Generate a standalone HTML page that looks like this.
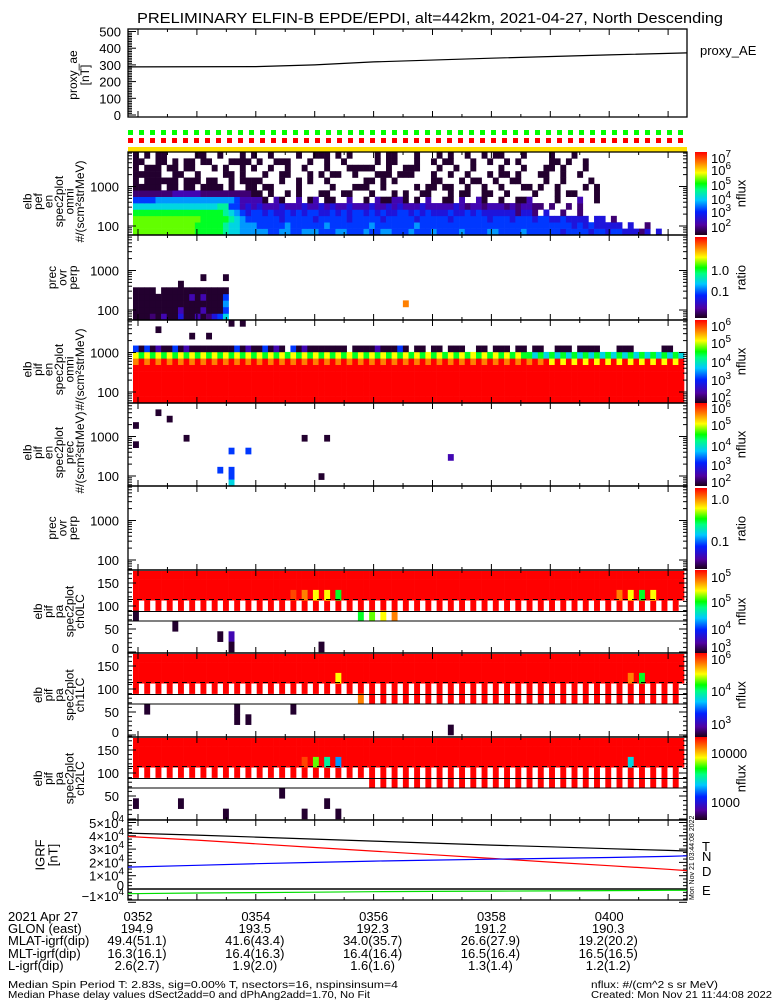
<!DOCTYPE html>
<html><head><meta charset="utf-8"><style>
html,body{margin:0;padding:0;background:#fff}
svg{display:block}
text{font-family:"Liberation Sans",sans-serif;fill:#000}
</style></head>
<body>
<svg id="chart" xmlns="http://www.w3.org/2000/svg" width="775" height="1000" viewBox="0 0 775 1000">
<defs>
<linearGradient id="rainbow" x1="0" y1="1" x2="0" y2="0">
<stop offset="0" stop-color="#1a0018"/><stop offset="0.12" stop-color="#5000a0"/><stop offset="0.28" stop-color="#0020ff"/><stop offset="0.42" stop-color="#00c8ff"/><stop offset="0.55" stop-color="#00ff80"/><stop offset="0.62" stop-color="#00ff00"/><stop offset="0.75" stop-color="#ffff00"/><stop offset="0.87" stop-color="#ff8000"/><stop offset="1" stop-color="#ff0000"/>
</linearGradient>
</defs>
<text x="137" y="23" font-size="15" textLength="586" lengthAdjust="spacingAndGlyphs">PRELIMINARY ELFIN-B EPDE/EPDI, alt=442km, 2021-04-27, North Descending</text>
<g id="layer"></g>
</svg>
<script>
// ---------- data ----------
const aeTimes = [-0.17, 2, 3, 4, 6, 8, 9.32];
const aeValues = [288, 290, 300, 318, 340, 360, 372];
const aeTicks = [0, 100, 200, 300, 400, 500];

const igrfTimes = [-0.17, 1, 2, 3, 4, 5, 6, 7, 8, 9, 9.32];
const igrfT = [4.2, 4.05, 3.9, 3.75, 3.6, 3.45, 3.3, 3.17, 3.03, 2.9, 2.86];
const igrfD = [3.95, 3.68, 3.4, 3.12, 2.85, 2.58, 2.3, 2.02, 1.75, 1.48, 1.38];
const igrfN = [1.65, 1.78, 1.9, 2.0, 2.1, 2.17, 2.24, 2.3, 2.37, 2.45, 2.5];
const igrfE = [-0.35, -0.3, -0.27, -0.24, -0.2, -0.18, -0.16, -0.14, -0.12, -0.1, -0.1];
const igrfTickVals = [5, 4, 3, 2, 1, 0, -1];

const timeLabels = ["0352", "0354", "0356", "0358", "0400"];
const timeLabelMinutes = [0, 2, 4, 6, 8];
const glonRow = ["194.9", "193.5", "192.3", "191.2", "190.3"];
const mlatRow = ["49.4(51.1)", "41.6(43.4)", "34.0(35.7)", "26.6(27.9)", "19.2(20.2)"];
const mltRow = ["16.3(16.1)", "16.4(16.3)", "16.4(16.4)", "16.5(16.4)", "16.5(16.5)"];
const lRow = ["2.6(2.7)", "1.9(2.0)", "1.6(1.6)", "1.3(1.4)", "1.2(1.2)"];

const levelChars = "kmpdbicaglyoqr";
const levelValues = [0.02, 0.08, 0.15, 0.22, 0.3, 0.38, 0.45, 0.52, 0.6, 0.67, 0.75, 0.87, 0.93, 1.0];

const pefOmniRows = [
"lllllllllllgggggacciiiiibbiibbiiibbbiibbbibbiibbbibbbibbbbibbbbiibbbbibbbbbbdbbbbdbbdbbdddmd.d...",
"lllllllllllgggggacciiibbbbbibbbbbbibbbbbbbibbbbbbbibbbbbbbbbbbbbbbbbbbbbbbbbbbdbdbddddd.d..m...",
"llllllllllllgggggacibbbbbbdbbbbbdbbbbbdbbbbbdbbbbbdbbbbbdbbbbbbdbbbdbbbdbbddbdddd.dd.m........",
"ggggggggggggggggacibdbbdbddbdbdbbddbdbdbbdbdbddbbdbdbdddbddbdbddddddmddm.d..m..m......",
"cccccccccccccccaabbpdpdpppdpppdppdpdppdpppdppdpdpppdpppppdpmppmpppmpmppmm.m..m.m.....",
"bbbbiiiiiiiiiiiiiibppppk.pk..p.kp.kk..p..k.pkkppk.k.p..kk.p..pk..k..kkp....k...p..k",
"mmmmmmmpppppmmmmmmmmmkk.k..k.k...kk..kk...k...k.k..kk...k.kk..kk..k....k...k.kk...k",
"kkkkk.kk.kk.kkkk.k..kk.kk....k.....k...kkk..k.....k.kk.kk..k..k..k...kk.k..k....k.k",
"k.kkkkkk.kkk.kk..k.kkkk...k..k.k..k......kk.k.k......kk...k.kk..k..kk....k..k....k",
"kkkkk..kk..k....kk.k...k..kk...k.k.kk..k...kkk.kkk...k..k..k...k.kk.k...kk..k..k..",
"k.kkk.kk.kk...k.k..k.k..k..k..k...k...kkkkk..k..kkk...k..k..k....k...k...kk.k...k",
"kk..kk.k.kk.kk...kkkk.k..kkk...k..k..k.....k.kk...k..k.kk...k..k..k.k.....kk.k..k..",
"k.k.kk.....kk..k...k.k..k....k..kkk.k.k....k.kk...k...k.k..k..k.kk...k....k...k.."
];
const pefRatioRows = [
"kkkmkpkkdkkpkmdbc",
"kkkkkkkkpkkkpkkkb",
"kkkkkkkkkkkkkkkki...............................o",
"kkkkkkkkkkpkpkkkb",
"kkkk.kkkkkkkkkkkk",
"........k........",
"............k...k"
];
const pifOmniRows = [
"r".repeat(98), "r".repeat(98), "r".repeat(98), "r".repeat(98), "r".repeat(98), "r".repeat(98),
"or".repeat(37) + "yr".repeat(12),
"yg".repeat(35) + "gc".repeat(14),
"bkbkpkkbkpkkkkkkkkbkpkkbkpk.bkpkkkkkkk.kkkkpkkkbk.kk.kk.kkk..kk.kkk.kk.kk..kkk.kkkk...kkk.....kk",
"",
"..........k..k",
"....k",
".................k.k"
];
const pifPrecCols = [0, 4, 6, 9, 0, 30, 34, 56, 15, 17, 17, 17, 17, 20, 33];
const pifPrecRowIdx = [9, 11, 10, 7, 6, 7, 7, 4, 2, 5, 2, 1, 0, 5, 1];
const pifPrecLevels = "kkkkkkkpbbbbcbk";

const paStripeStart = [999, 42, 42];
const ch0Spots = [[28,5,"q"],[30,5,"o"],[32,5,"y"],[34,5,"y"],[36,5,"g"],[86,5,"o"],[88,5,"y"],[90,5,"g"],[92,5,"y"],
  [0,3,"k"],[40,3,"g"],[42,3,"l"],[44,3,"y"],[46,3,"o"],[7,2,"k"],[15,1,"k"],[17,1,"p"],[17,0,"k"],[33,0,"k"]];
const ch1Spots = [[36,5,"y"],[88,5,"o"],[90,5,"g"],[40,3,"o"],[2,2,"k"],[18,2,"k"],[28,2,"k"],[18,1,"k"],[20,1,"k"],[56,0,"k"]];
const ch2Spots = [[30,5,"q"],[32,5,"l"],[34,5,"a"],[36,5,"i"],[88,5,"c"],[0,1,"k"],[8,1,"k"],[34,1,"k"],[26,2,"k"],[16,0,"k"],[30,0,"k"],[36,0,"k"]];

const flagCount = 51;

// ---------- geometry ----------
const X0 = 128, X1 = 687, DX0 = 133, NB = 98, CW = (684 - DX0) / NB;
const svgNS = "http://www.w3.org/2000/svg";
const layer = document.getElementById("layer");
function xT(t) { return 138 + t * 58.9; }
function el(tag, attrs, parent) {
  const e = document.createElementNS(svgNS, tag);
  for (const k in attrs) e.setAttribute(k, attrs[k]);
  (parent || layer).appendChild(e);
  return e;
}
const stops = [[0,[26,0,24]],[0.12,[80,0,160]],[0.28,[0,32,255]],[0.42,[0,200,255]],[0.55,[0,255,128]],[0.62,[0,255,0]],[0.75,[255,255,0]],[0.87,[255,128,0]],[1,[255,0,0]]];
function cmap(v) {
  for (let i = 1; i < stops.length; i++) {
    if (v <= stops[i][0]) {
      const a = stops[i-1], b = stops[i], f = (v - a[0]) / (b[0] - a[0]);
      const c = a[1].map((q, j) => Math.round(q + (b[1][j] - q) * f));
      return "rgb(" + c.join(",") + ")";
    }
  }
  return "rgb(255,0,0)";
}
function lvl(ch) { const i = levelChars.indexOf(ch); return i < 0 ? null : levelValues[i]; }
function cell(col, y, h, ch, name) {
  const v = lvl(ch); if (v === null || col >= NB) return;
  const r = el("rect", {x: (DX0 + col * CW).toFixed(2), y: y.toFixed(2), width: (CW + 0.3).toFixed(2), height: (h + 0.3).toFixed(2), fill: cmap(v)});
  
  
}
function txt(x, y, s, size, anchor, name, extra) {
  const t = el("text", Object.assign({x: x, y: y, "font-size": size, "text-anchor": anchor || "start"}, extra || {}));
  t.textContent = s;
  
  
  return t;
}
function rtxt(x, y, s, size, name, color) {
  const t = el("text", {transform: "translate(" + x + "," + y + ") rotate(-90)", "font-size": size, "text-anchor": "middle", "dominant-baseline": "central", fill: color || "#000"});
  t.textContent = s;
  
  
}
function line(x1, y1, x2, y2, name, stroke, extra) {
  const l = el("line", Object.assign({x1: x1, y1: y1, x2: x2, y2: y2, stroke: stroke || "#000", "stroke-width": 1}, extra || {}));
  
  
}
function frame(top, bot, name) {
  const r = el("rect", {x: X0, y: top, width: X1 - X0, height: bot - top, fill: "none", stroke: "#000", "stroke-width": 1.3});
  
  
  for (let k = 0; k <= 18; k++) {
    const x = xT(k * 0.5); if (x > X1) break;
    const len = (k % 2 === 0) ? 6 : 3;
    line(x, bot, x, bot - len, "x-tick", "#000");
    line(x, top, x, top + len, "x-tick", "#000");
  }
}
function leftLabels(lines, xs, cy, name) {
  lines.forEach((s, i) => rtxt(xs[i], cy, s, 12, name + "-" + i));
}
function colorbar(top, bot, labels, ys, title, name) {
  const r = el("rect", {x: 695, y: top, width: 12, height: bot - top, fill: "url(#rainbow)"});
  
  
  labels.forEach((s, i) => {
    const t = el("text", {x: 711, y: ys[i] + 5, "font-size": 13});
    
    
    if (s.indexOf("^") > 0) {
      const p = s.split("^");
      t.textContent = p[0];
      const sp = el("tspan", {dy: -6, "font-size": 10}, t); sp.textContent = p[1];
    } else t.textContent = s;
  });
  rtxt(741, (top + bot) / 2, title, 13, name + "-title");
}
function logTicks(top, bot, y100) {
  for (let d = 1; d <= 4; d++) {
    for (let m = 1; m <= 9; m++) {
      const y = y100 - (d - 2 + Math.log10(m)) * 39.5;
      if (y < top + 1 || y > bot - 1) continue;
      const len = m === 1 ? 8 : 4;
      line(X0, y, X0 + len, y, "y-tick");
      line(X1, y, X1 - len, y, "y-tick");
    }
  }
}

// ---------- proxy AE ----------
const aeTop = 29, aeBot = 117;
function yAE(v) { return 115 - v * 0.167; }
frame(aeTop, aeBot, "proxy-ae-frame");
for (let v = 0; v <= 500; v += 10) { const len = v % 100 === 0 ? 8 : 4; line(X0, yAE(v), X0 + len, yAE(v), "ae-y-tick"); }
aeTicks.forEach(v => txt(121, yAE(v) + 5, String(v), 13, "end", "ae-tick-label"));
{
  const pl = el("polyline", {points: aeTimes.map((t, i) => xT(t).toFixed(1) + "," + yAE(aeValues[i]).toFixed(1)).join(" "), fill: "none", stroke: "#000", "stroke-width": 1.2});
  
  
}
rtxt(73, 75, "proxy_ae", 12, "proxy-ae-axis-title");
rtxt(85, 75, "[nT]", 12, "proxy-ae-axis-unit");
txt(700, 55, "proxy_AE", 13, "start", "proxy-ae-legend");

// ---------- flags ----------
for (let k = 0; k < flagCount; k++) {
  const g = el("rect", {x: X0 + k * 11, y: 130, width: 5, height: 5, fill: "#00ff00"});
  
  
  const r = el("rect", {x: X0 + k * 11, y: 138, width: 5, height: 5, fill: "#ff0000"});
  
  
}
{
  const yb = el("rect", {x: X0, y: 147, width: X1 - X0, height: 5, fill: "#ffe000"});
  
  
}

// ---------- spectrogram panels ----------
function specPanel(top, bot, rows, name) {
  const rh = (bot - top) / 13;
  rows.forEach((s, r) => { for (let c = 0; c < s.length; c++) cell(c, bot - (r + 1) * rh, rh, s[c], name + "-cell"); });
}
const spec = [
  {top:152, bot:235, y100:226, rows:pefOmniRows, name:"pef-omni", lab:["elb","pef","en","spec2plot","omni","#/(scm²strMeV)"]},
  {top:235, bot:320, y100:310, rows:pefRatioRows, name:"pef-ratio", lab:["prec","ovr","perp"]},
  {top:320, bot:403, y100:392, rows:pifOmniRows, name:"pif-omni", lab:["elb","pif","en","spec2plot","omni","#/(scm²strMeV)"]},
  {top:403, bot:486, y100:476, rows:[], name:"pif-prec", lab:["elb","pif","en","spec2plot","prec","#/(scm²strMeV)"]},
  {top:486, bot:570, y100:560, rows:[], name:"pif-ratio", lab:["prec","ovr","perp"]}
];
spec.forEach(p => {
  specPanel(p.top, p.bot, p.rows, p.name);
  if (p.name === "pif-prec") {
    const rh = (p.bot - p.top) / 13;
    pifPrecCols.forEach((c, i) => cell(c, p.bot - (pifPrecRowIdx[i] + 1) * rh, rh, pifPrecLevels[i], "pif-prec-cell"));
  }
  frame(p.top, p.bot, p.name + "-frame");
  logTicks(p.top, p.bot, p.y100);
  txt(119, p.y100 + 5, "100", 13, "end", "y-tick-label");
  txt(119, p.y100 - 39.5 + 5, "1000", 13, "end", "y-tick-label");
  const xs = p.lab.length === 6 ? [27.5, 38, 48.5, 59, 69.5, 80] : [52, 62.5, 73];
  leftLabels(p.lab, xs, (p.top + p.bot) / 2 + (p.lab.length === 6 ? 8 : 0), p.name + "-axis-title");
});

// ---------- pitch angle panels ----------
const pa = [
  {top:570, bot:653, spots:ch0Spots, stripe:paStripeStart[0], name:"ch0LC"},
  {top:653, bot:737, spots:ch1Spots, stripe:paStripeStart[1], name:"ch1LC"},
  {top:737, bot:820, spots:ch2Spots, stripe:paStripeStart[2], name:"ch2LC"}
];
pa.forEach(p => {
  const yA = a => p.top + 82 - a * 0.46;
  const bandY = b => yA((b + 1) * 22.5);
  const bh = 22.5 * 0.46;
  for (let c = 0; c < NB; c++) {
    for (let b = 5; b <= 7; b++) {
      const y = Math.max(bandY(b), p.top + 1);
      cell(c, y, yA(b * 22.5) - y, "r", p.name + "-cell");
    }
    if (c % 2 === 0) cell(c, bandY(4), bh, "r", p.name + "-cell");
    if (c % 2 === 0 && c >= p.stripe) cell(c, bandY(3), bh, "r", p.name + "-cell");
  }
  p.spots.forEach(s => cell(s[0], bandY(s[1]), bh, s[2], p.name + "-cell"));
  line(X0, yA(88), X1, yA(88), p.name + "-90deg-line");
  line(X0, yA(67.5), X1, yA(67.5), p.name + "-loss-cone-line");
  line(X0, yA(114), X1, yA(114), p.name + "-dashed-line", "#000", {"stroke-dasharray": "5,4"});
  frame(p.top, p.bot, p.name + "-frame");
  for (let a = 0; a <= 180; a += 10) { const len = a % 50 === 0 ? 8 : 4; line(X0, yA(a), X0 + len, yA(a), "y-tick"); line(X1, yA(a), X1 - len, yA(a), "y-tick"); }
  [150, 100, 50, 0].forEach(a => txt(119, Math.min(yA(a), p.bot - 5) + 5, String(a), 13, "end", "y-tick-label"));
  leftLabels(["elb","pif","pa","spec2plot",p.name], [38, 48.5, 59, 69.5, 80], (p.top + p.bot) / 2, p.name + "-axis-title");
});

// ---------- colorbars ----------
colorbar(152, 235, ["10^7","10^6","10^5","10^4","10^3","10^2"], [158,170,185,199,212,227], "nflux", "colorbar-pef-omni");
colorbar(237, 318, ["1.0","0.1"], [270,291], "ratio", "colorbar-pef-ratio");
colorbar(320, 403, ["10^6","10^5","10^4","10^3","10^2"], [326,343,362,380,397], "nflux", "colorbar-pif-omni");
colorbar(403, 486, ["10^6","10^5","10^4","10^3","10^2"], [408,425,446,465,482], "nflux", "colorbar-pif-prec");
colorbar(488, 569, ["1.0","0.1"], [499,541], "ratio", "colorbar-pif-ratio");
colorbar(570, 653, ["10^5","10^5","10^4","10^3"], [577,602,629,647], "nflux", "colorbar-ch0");
colorbar(653, 737, ["10^6","10^4","10^3"], [659,691,724], "nflux", "colorbar-ch1");
colorbar(737, 820, ["10000","1000"], [753,802], "nflux", "colorbar-ch2");

// ---------- IGRF ----------
const igTop = 820, igBot = 900;
function yIG(v) { return 889 - v * 13.3; }
frame(igTop, igBot, "igrf-frame");
for (let v = -1; v <= 5; v += 0.25) { const len = Math.abs(v - Math.round(v)) < 0.01 ? 8 : 4; line(X0, yIG(v), X0 + len, yIG(v), "igrf-y-tick"); line(X1, yIG(v), X1 - len, yIG(v), "igrf-y-tick"); }
line(X0, yIG(0), X1, yIG(0), "igrf-zero-line", "#000", {"stroke-width": 1.5});
[[igrfT, "#000", "igrf-total"], [igrfD, "#ff0000", "igrf-down"], [igrfN, "#0000ff", "igrf-north"], [igrfE, "#00dd00", "igrf-east"]].forEach(s => {
  const pl = el("polyline", {points: igrfTimes.map((t, i) => xT(t).toFixed(1) + "," + yIG(s[0][i]).toFixed(1)).join(" "), fill: "none", stroke: s[1], "stroke-width": 1.2});
  
  
});
igrfTickVals.forEach(v => {
  const t = el("text", {x: 124, y: Math.min(Math.max(yIG(v), igTop + 3), igBot - 4) + 5 - (v === 0 ? 4 : 0), "font-size": 13, "text-anchor": "end"});
  
  
  if (v === 0) t.textContent = "0";
  else { t.textContent = (v < 0 ? "−" : "") + Math.abs(v) + "×10"; const sp = el("tspan", {dy: -6, "font-size": 10}, t); sp.textContent = "4"; }
});
rtxt(40, 855, "IGRF", 13, "igrf-axis-title");
rtxt(53, 855, "[nT]", 13, "igrf-axis-unit");
[["T","#000",846],["N","#0000ff",856],["D","#ff0000",871],["E","#00dd00",890]].forEach(l => {
  const t = txt(702, l[2] + 5, l[0], 13, "start", "igrf-legend-" + l[0]);
  t.setAttribute("fill", l[1]);
});
{
  const t = el("text", {transform: "translate(694,900) rotate(-90)", "font-size": 7});
  t.textContent = "Mon Nov 21 03:44:08 2022";
  
  
}

// ---------- bottom annotation rows ----------
const rowLabels = ["2021 Apr 27", "GLON (east)", "MLAT-igrf(dip)", "MLT-igrf(dip)", "L-igrf(dip)"];
const rowYs = [921, 933, 945, 958, 970];
const rowData = [timeLabels, glonRow, mlatRow, mltRow, lRow];
rowLabels.forEach((s, i) => txt(8, rowYs[i], s, 13, "start", "row-label"));
rowData.forEach((arr, i) => arr.forEach((s, j) => txt(xT(timeLabelMinutes[j]) + (i === 0 ? 0 : -1), rowYs[i], s, 13, "middle", "row-value")));
txt(8, 988, "Median Spin Period T: 2.83s, sig=0.00% T, nsectors=16, nspinsinsum=4", 10, "start", "footer-spin", {textLength: 390, lengthAdjust: "spacingAndGlyphs"});
txt(8, 998, "Median Phase delay values dSect2add=0 and dPhAng2add=1.70, No Fit", 10, "start", "footer-phase", {textLength: 362, lengthAdjust: "spacingAndGlyphs"});
txt(591, 988, "nflux: #/(cm^2 s sr MeV)", 10, "start", "footer-units", {textLength: 127, lengthAdjust: "spacingAndGlyphs"});
txt(591, 998, "Created: Mon Nov 21 11:44:08 2022", 10, "start", "footer-created", {textLength: 181, lengthAdjust: "spacingAndGlyphs"});
</script>
</body></html>
